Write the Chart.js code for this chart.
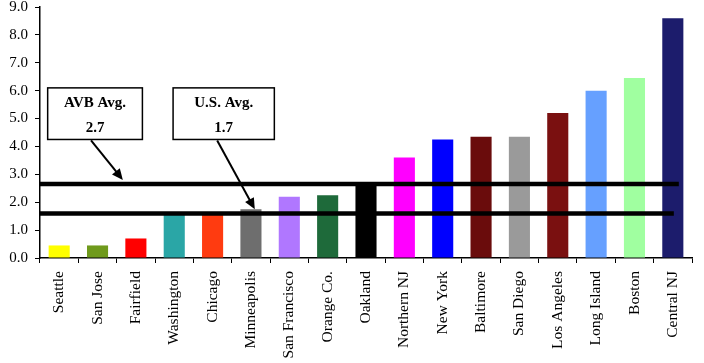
<!DOCTYPE html>
<html>
<head>
<meta charset="utf-8">
<script src="https://cdn.jsdelivr.net/npm/chart.js@4"></script>
<style>
  html, body { margin: 0; padding: 0; background: #fff; }
  #wrap { width: 704px; height: 363px; }
</style>
</head>
<body>
<div id="wrap"><canvas id="myChart" width="704" height="363"></canvas></div>
<script>
// markets along the x-axis
var markets = ["Seattle", "San Jose", "Fairfield", "Washington", "Chicago", "Minneapolis",
  "San Francisco", "Orange Co.", "Oakland", "Northern NJ", "New York", "Baltimore",
  "San Diego", "Los Angeles", "Long Island", "Boston", "Central NJ"];
// bar heights
var values = [0.45, 0.45, 0.7, 1.6, 1.6, 1.75, 2.2, 2.25, 2.65, 3.6, 4.25, 4.35, 4.35, 5.2, 6.0, 6.45, 8.6];
var barColors = ["#ffff00", "#6f9a1c", "#ff0000", "#2aa6a6", "#ff3b10", "#6e6e6e",
  "#b077ff", "#1e6a3a", "#000000", "#ff00ff", "#0000ff", "#6a0c0c",
  "#9a9a9a", "#7a1010", "#66a0ff", "#a0ffa0", "#1c1c6c"];
// reference lines
var avgNames = ["AVB Avg.", "U.S. Avg."];
var avgLabels = ["2.7", "1.7"];
var avgLevels = [2.65, 1.6];

var serif = "'Liberation Serif', 'Times New Roman', serif";
Chart.defaults.font.family = serif;
Chart.defaults.color = "#000";

var avgPlugin = {
  id: "avgLines",
  afterDatasetsDraw: function (chart) {
    var ctx = chart.ctx, x = chart.scales.x, y = chart.scales.y;
    var left = chart.chartArea.left;
    var ends = [x.getPixelForValue(16) + 6, x.getPixelForValue(16) + 1];
    // boxes: [x0 index, x1 index, top value, bottom value]
    var boxes = [[-0.3, 2.17, 6.1, 4.25], [2.97, 5.61, 6.1, 4.25]];
    // arrows: [start index, end index, end value]
    var arrows = [[0.83, 1.66, 2.8], [4.12, 5.1, 1.75]];
    ctx.save();
    for (var i = 0; i < avgLevels.length; i++) {
      var py = y.getPixelForValue(avgLevels[i]);
      ctx.strokeStyle = "#000";
      ctx.lineWidth = 4.5;
      ctx.beginPath();
      ctx.moveTo(left, py);
      ctx.lineTo(ends[i], py);
      ctx.stroke();

      var b = boxes[i];
      var bx0 = x.getPixelForValue(b[0]), bx1 = x.getPixelForValue(b[1]);
      var by0 = y.getPixelForValue(b[2]), by1 = y.getPixelForValue(b[3]);
      ctx.fillStyle = "#fff";
      ctx.fillRect(bx0, by0, bx1 - bx0, by1 - by0);
      ctx.lineWidth = 1.5;
      ctx.strokeRect(bx0, by0, bx1 - bx0, by1 - by0);
      ctx.fillStyle = "#000";
      ctx.font = "bold 15px " + serif;
      ctx.textAlign = "center";
      ctx.textBaseline = "middle";
      var cx = (bx0 + bx1) / 2;
      ctx.fillText(avgNames[i], cx, by0 + 15);
      ctx.fillText(avgLabels[i], cx, by0 + 40);

      var a = arrows[i];
      var ax0 = x.getPixelForValue(a[0]), ay0 = by1 + 1;
      var ax1 = x.getPixelForValue(a[1]), ay1 = y.getPixelForValue(a[2]);
      var ang = Math.atan2(ay1 - ay0, ax1 - ax0);
      ctx.lineWidth = 2;
      ctx.beginPath();
      ctx.moveTo(ax0, ay0);
      ctx.lineTo(ax1 - 6 * Math.cos(ang), ay1 - 6 * Math.sin(ang));
      ctx.stroke();
      ctx.beginPath();
      ctx.moveTo(ax1, ay1);
      ctx.lineTo(ax1 - 11 * Math.cos(ang) + 5 * Math.sin(ang), ay1 - 11 * Math.sin(ang) - 5 * Math.cos(ang));
      ctx.lineTo(ax1 - 11 * Math.cos(ang) - 5 * Math.sin(ang), ay1 - 11 * Math.sin(ang) + 5 * Math.cos(ang));
      ctx.closePath();
      ctx.fill();
    }
    ctx.restore();
  }
};

new Chart(document.getElementById("myChart"), {
  type: "bar",
  data: {
    labels: markets,
    datasets: [{
      data: values,
      backgroundColor: barColors,
      borderWidth: 0,
      categoryPercentage: 1,
      barPercentage: 0.55
    }]
  },
  options: {
    responsive: false,
    animation: false,
    layout: { padding: { top: 7, right: 12, left: 0, bottom: 0 } },
    plugins: { legend: { display: false }, tooltip: { enabled: false } },
    scales: {
      x: {
        grid: { display: true, offset: true, drawOnChartArea: false, tickLength: 5, color: "#000", lineWidth: 1 },
        border: { color: "#000", width: 1.5 },
        ticks: { maxRotation: 90, minRotation: 90, font: { size: 15.5 }, padding: 8, autoSkip: false },
        afterFit: function (s) { s.height = 105; }
      },
      y: {
        min: 0, max: 9,
        grid: { display: true, drawOnChartArea: false, tickLength: 5, color: "#000" },
        border: { color: "#000", width: 1.5 },
        ticks: { stepSize: 1, font: { size: 15 }, padding: 7, callback: function (v) { return v.toFixed(1); } },
        afterFit: function (s) { s.width = 40; s.paddingTop = 0; s.paddingBottom = 0; }
      }
    }
  },
  plugins: [avgPlugin]
});
</script>
</body>
</html>
